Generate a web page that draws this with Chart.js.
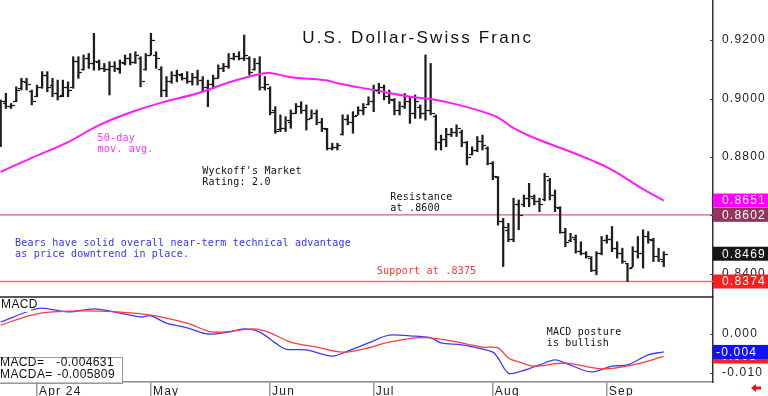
<!DOCTYPE html>
<html>
<head>
<meta charset="utf-8">
<title>U.S. Dollar-Swiss Franc</title>
<script src="https://cdn.jsdelivr.net/npm/chart.js@4.4.1/dist/chart.umd.min.js"></script>
<style>
    html, body { margin: 0; padding: 0; background: #fff; }
    canvas { display: block; }
</style>
</head>
<body>
<canvas id="fxChart" width="768" height="396"></canvas>
<script>
// Daily bars, index 0 = first trading day shown (late March)
const opens = [
    0.8840, 0.8985, 0.8975, 0.8990, 0.9035, 0.9058, 0.9025, 0.9010, 0.9040, 0.9080,
    0.9045, 0.9020, 0.9012, 0.9040, 0.9040, 0.9130, 0.9100, 0.9140, 0.9120, 0.9125,
    0.9105, 0.9100, 0.9110, 0.9100, 0.9120, 0.9140, 0.9125, 0.9140, 0.9100, 0.9150,
    0.9150, 0.9100, 0.9030, 0.9060, 0.9080, 0.9080, 0.9070, 0.9060, 0.9075, 0.9065,
    0.9040, 0.9050, 0.9070, 0.9105, 0.9110, 0.9140, 0.9145, 0.9140, 0.9140, 0.9100,
    0.9120, 0.9040, 0.9035, 0.8960, 0.8895, 0.8900, 0.8920, 0.8950, 0.8975, 0.8960,
    0.8935, 0.8950, 0.8920, 0.8895, 0.8830, 0.8835, 0.8880, 0.8930, 0.8920, 0.8945,
    0.8960, 0.8980, 0.8990, 0.9030, 0.9040, 0.9010, 0.8995, 0.8960, 0.8975, 0.8990,
    0.8950, 0.8970, 0.8950, 0.8960, 0.8940, 0.8850, 0.8860, 0.8880, 0.8885, 0.8885,
    0.8850, 0.8810, 0.8825, 0.8855, 0.8830, 0.8780, 0.8730, 0.8580, 0.8550, 0.8520,
    0.8640, 0.8640, 0.8660, 0.8660, 0.8650, 0.8655, 0.8720, 0.8670, 0.8625, 0.8545,
    0.8515, 0.8520, 0.8480, 0.8470, 0.8455, 0.8415, 0.8470, 0.8515, 0.8520, 0.8490,
    0.8470, 0.8436, 0.8425, 0.8480, 0.8470, 0.8530, 0.8515, 0.8460, 0.8445
];
const highs = [
    0.8995, 0.9018, 0.8983, 0.9040, 0.9069, 0.9069, 0.9029, 0.9046, 0.9092, 0.9092,
    0.9069, 0.9063, 0.9063, 0.9057, 0.9143, 0.9143, 0.9149, 0.9154, 0.9223, 0.9132,
    0.9120, 0.9126, 0.9126, 0.9132, 0.9149, 0.9154, 0.9160, 0.9143, 0.9154, 0.9223,
    0.9160, 0.9109, 0.9075, 0.9092, 0.9097, 0.9086, 0.9092, 0.9086, 0.9097, 0.9075,
    0.9063, 0.9080, 0.9115, 0.9120, 0.9154, 0.9155, 0.9160, 0.9217, 0.9143, 0.9137,
    0.9143, 0.9075, 0.9040, 0.8972, 0.8944, 0.8938, 0.8961, 0.8983, 0.8989, 0.8978,
    0.8961, 0.8961, 0.8932, 0.8898, 0.8847, 0.8847, 0.8944, 0.8944, 0.8955, 0.8972,
    0.8983, 0.9006, 0.9046, 0.9052, 0.9046, 0.9029, 0.9000, 0.8989, 0.9017, 0.9006,
    0.9012, 0.8978, 0.9149, 0.9120, 0.8944, 0.8875, 0.8898, 0.8898, 0.8910, 0.8892,
    0.8853, 0.8835, 0.8870, 0.8875, 0.8835, 0.8784, 0.8733, 0.8590, 0.8573, 0.8659,
    0.8653, 0.8670, 0.8710, 0.8670, 0.8659, 0.8744, 0.8727, 0.8687, 0.8630, 0.8556,
    0.8539, 0.8533, 0.8510, 0.8476, 0.8459, 0.8476, 0.8528, 0.8533, 0.8562, 0.8510,
    0.8488, 0.8436, 0.8493, 0.8528, 0.8551, 0.8545, 0.8522, 0.8488, 0.8476
];
const lows = [
    0.8835, 0.8966, 0.8966, 0.8989, 0.9029, 0.9029, 0.8978, 0.9006, 0.9035, 0.9023,
    0.9006, 0.8995, 0.9006, 0.9006, 0.9035, 0.9069, 0.9097, 0.9103, 0.9097, 0.9097,
    0.9092, 0.9012, 0.9092, 0.9086, 0.9115, 0.9115, 0.9120, 0.9040, 0.9097, 0.9149,
    0.9103, 0.9006, 0.9006, 0.9052, 0.9057, 0.9063, 0.9052, 0.9046, 0.9046, 0.9023,
    0.8972, 0.9035, 0.9069, 0.9092, 0.9103, 0.9132, 0.9132, 0.9130, 0.9080, 0.9097,
    0.9029, 0.9029, 0.8944, 0.8881, 0.8887, 0.8887, 0.8898, 0.8949, 0.8949, 0.8892,
    0.8932, 0.8910, 0.8887, 0.8824, 0.8824, 0.8824, 0.8875, 0.8910, 0.8881, 0.8944,
    0.8944, 0.8978, 0.8955, 0.9017, 0.8995, 0.8983, 0.8944, 0.8944, 0.8966, 0.8915,
    0.8932, 0.8932, 0.8926, 0.8944, 0.8824, 0.8824, 0.8835, 0.8870, 0.8870, 0.8835,
    0.8773, 0.8807, 0.8818, 0.8824, 0.8773, 0.8722, 0.8567, 0.8425, 0.8510, 0.8510,
    0.8551, 0.8630, 0.8630, 0.8636, 0.8613, 0.8650, 0.8653, 0.8613, 0.8539, 0.8493,
    0.8510, 0.8471, 0.8465, 0.8454, 0.8408, 0.8397, 0.8465, 0.8505, 0.8476, 0.8454,
    0.8436, 0.8374, 0.8425, 0.8454, 0.8420, 0.8505, 0.8442, 0.8442, 0.8425
];
const closes = [
    0.8990, 0.8975, 0.8978, 0.9030, 0.9060, 0.9050, 0.8990, 0.9040, 0.9080, 0.9040,
    0.9020, 0.9010, 0.9040, 0.9030, 0.9130, 0.9090, 0.9140, 0.9120, 0.9130, 0.9105,
    0.9100, 0.9110, 0.9105, 0.9125, 0.9140, 0.9125, 0.9150, 0.9060, 0.9150, 0.9200,
    0.9140, 0.9030, 0.9060, 0.9080, 0.9085, 0.9070, 0.9060, 0.9075, 0.9065, 0.9040,
    0.9050, 0.9070, 0.9105, 0.9110, 0.9140, 0.9145, 0.9140, 0.9150, 0.9090, 0.9120,
    0.9040, 0.9050, 0.8955, 0.8890, 0.8900, 0.8925, 0.8950, 0.8975, 0.8960, 0.8930,
    0.8950, 0.8920, 0.8900, 0.8830, 0.8835, 0.8840, 0.8930, 0.8920, 0.8940, 0.8960,
    0.8970, 0.8990, 0.9030, 0.9040, 0.9010, 0.9000, 0.8960, 0.8975, 0.8990, 0.8950,
    0.8990, 0.8950, 0.8960, 0.8950, 0.8850, 0.8860, 0.8880, 0.8885, 0.8900, 0.8850,
    0.8800, 0.8825, 0.8855, 0.8840, 0.8780, 0.8735, 0.8580, 0.8560, 0.8520, 0.8640,
    0.8600, 0.8660, 0.8665, 0.8650, 0.8640, 0.8735, 0.8670, 0.8630, 0.8545, 0.8510,
    0.8525, 0.8480, 0.8470, 0.8460, 0.8415, 0.8470, 0.8515, 0.8520, 0.8490, 0.8470,
    0.8445, 0.8420, 0.8480, 0.8470, 0.8530, 0.8520, 0.8460, 0.8450, 0.8469
];

// 50-day moving average
const maDays = [0, 6, 13, 19, 25, 31, 38, 44, 50, 52, 56, 63, 65, 72, 79, 83, 88, 93, 96, 99, 104, 110, 114, 118, 124, 128];
const maValues = [0.8749, 0.8797, 0.8851, 0.8909, 0.8952, 0.8986, 0.9018, 0.9055, 0.9084, 0.9087, 0.9073, 0.9062, 0.9052,
    0.9029, 0.9006, 0.8998, 0.8980, 0.8955, 0.8935, 0.8899, 0.8858, 0.8818, 0.8789, 0.8756, 0.8690, 0.8651];

// MACD (blue) and its average (red)
const macdDays = [0, 6, 8, 13, 18, 23, 27, 29, 32, 36, 40, 44, 47, 50, 53, 55, 59, 64, 67, 71, 75, 79, 83, 85, 89, 92, 95,
    96, 98, 100, 104, 107, 109, 114, 118, 121, 125, 128];
const macdValues = [0.0031, 0.0062, 0.0067, 0.0057, 0.0065, 0.0054, 0.0044, 0.0047, 0.0028, 0.0016, 0.0000, 0.0005, 0.0013,
    0.0005, -0.0023, -0.0039, -0.0041, -0.0057, -0.0044, -0.0023, -0.0003, -0.0005, -0.0010, -0.0023, -0.0028, -0.0036,
    -0.0047, -0.0062, -0.0101, -0.0098, -0.0080, -0.0067, -0.0075, -0.0098, -0.0083, -0.0080, -0.0054, -0.004631];
const signalDays = [0, 6, 10, 19, 29, 36, 41, 49, 52, 56, 61, 66, 70, 75, 80, 83, 87, 93, 96, 98, 100, 103, 109, 116, 122, 128];
const signalValues = [0.0023, 0.0049, 0.0057, 0.0059, 0.0049, 0.0028, 0.0005, 0.0013, 0.0003, -0.0021, -0.0034, -0.0047,
    -0.0039, -0.0021, -0.0010, -0.0010, -0.0018, -0.0034, -0.0036, -0.0062, -0.0072, -0.0083, -0.0075, -0.0090, -0.0080,
    -0.005809];

// Axis ticks
const monthStarts = [7, 29, 52, 72, 95, 117];
const monthLabels = ['Apr 24', 'May', 'Jun', 'Jul', 'Aug', 'Sep'];
const priceTicks = [0.84, 0.85, 0.86, 0.87, 0.88, 0.89, 0.90, 0.91, 0.92, 0.93];
const macdTicks = [-0.010, -0.005, 0.000, 0.005];

// Levels
const resistance = 0.8602;
const support = 0.8374;

/**
 * Text notes placed in data space (x = trading day, y = value on the given axis)
 */
const notes = [
    { lines: ['U.S. Dollar-Swiss Franc'], x: 58.2, y: 0.9207, axis: 'y', color: '#111', font: '17px "Liberation Sans"', spacing: '2.2px' },
    { lines: ['50-day', 'mov. avg.'], x: 18.7, y: 0.8865, axis: 'y', color: '#ff33ff' },
    { lines: ["Wyckoff's Market", 'Rating: 2.0'], x: 38.9, y: 0.8749, axis: 'y', color: '#111' },
    { lines: ['Resistance', 'at .8600'], x: 75.2, y: 0.8660, axis: 'y', color: '#111' },
    { lines: ['Bears have solid overall near-term technical advantage', 'as price downtrend in place.'], x: 2.76, y: 0.8503, axis: 'y', color: '#3333ff' },
    { lines: ['Support at .8375'], x: 72.6, y: 0.8407, axis: 'y', color: '#ff3333' },
    { lines: ['MACD posture', 'is bullish'], x: 105.4, y: 0.0005, axis: 'y2', color: '#111' }
];

const noteFont = '10px "DejaVu Sans Mono"';
const axisFont = { family: 'Liberation Sans', size: 12 };

/**
 * Draws the open/close ticks, level lines, notes and value tags
 */
const decorPlugin = {
    id: 'decor',
    beforeDraw(chart) {
        chart.ctx.letterSpacing = '1.2px';
    },
    beforeDatasetsDraw(chart) {
        const { ctx, chartArea, scales } = chart;
        const y = scales.y;
        ctx.save();
        ctx.lineWidth = 1.3;
        ctx.strokeStyle = '#c8608c';
        line(ctx, chartArea.left, y.getPixelForValue(resistance), chartArea.right, y.getPixelForValue(resistance));
        ctx.strokeStyle = '#ff6a6a';
        line(ctx, chartArea.left, y.getPixelForValue(support), chartArea.right, y.getPixelForValue(support));
        ctx.restore();
    },
    afterDatasetsDraw(chart) {
        const { ctx, chartArea, scales } = chart;
        const x = scales.x, y = scales.y, y2 = scales.y2;

        // open and close ticks
        ctx.save();
        ctx.strokeStyle = '#1a1a1a';
        ctx.lineWidth = 1.2;
        opens.forEach((o, i) => {
            const px = Math.round(x.getPixelForValue(i));
            const po = Math.round(y.getPixelForValue(o)) + 0.5;
            const pc = Math.round(y.getPixelForValue(closes[i])) + 0.5;
            line(ctx, px - 3, po, px, po);
            line(ctx, px + 1, pc, px + 4, pc);
        });
        ctx.restore();

        // separator between the panels
        ctx.save();
        ctx.strokeStyle = '#222';
        ctx.lineWidth = 1.5;
        line(ctx, chartArea.left, y.bottom, chartArea.right, y.bottom);

        // small inner ticks on the right axes
        ctx.lineWidth = 1;
        ctx.strokeStyle = '#444';
        [y, y2].forEach(s => s.ticks.forEach(t => {
            const py = Math.round(s.getPixelForValue(t.value)) + 0.5;
            if (py > s.top + 1 && py < s.bottom - 1) line(ctx, chartArea.right - 3, py, chartArea.right, py);
        }));
        ctx.restore();

        // notes
        notes.forEach(n => {
            ctx.save();
            ctx.font = n.font || noteFont;
            ctx.letterSpacing = n.spacing || '0.2px';
            ctx.fillStyle = n.color;
            ctx.textBaseline = 'middle';
            const px = x.getPixelForValue(n.x);
            const py = scales[n.axis].getPixelForValue(n.y);
            n.lines.forEach((t, k) => ctx.fillText(t, px, py + k * 11));
            ctx.restore();
        });

        // MACD caption and readout box
        ctx.save();
        ctx.font = '12px "Liberation Sans"';
        ctx.letterSpacing = '0.4px';
        ctx.textBaseline = 'middle';
        ctx.fillStyle = '#fff';
        ctx.fillRect(chartArea.left, y2.top + 1, 31, 14);
        ctx.fillStyle = '#111';
        ctx.fillText('MACD', chartArea.left + 1, y2.top + 8);

        const boxTop = y2.bottom - 25;
        ctx.fillStyle = '#fff';
        ctx.fillRect(chartArea.left - 1, boxTop, 123, 25);
        ctx.strokeStyle = '#999';
        ctx.lineWidth = 1;
        ctx.strokeRect(chartArea.left - 1, boxTop + 0.5, 123.5, 26);
        ctx.fillStyle = '#111';
        const lastMacd = macdValues[macdValues.length - 1];
        const lastSignal = signalValues[signalValues.length - 1];
        ctx.fillText('MACD=', chartArea.left, boxTop + 6);
        ctx.fillText('MACDA=', chartArea.left, boxTop + 18);
        ctx.textAlign = 'right';
        ctx.fillText(lastMacd.toFixed(6), chartArea.left + 114, boxTop + 6);
        ctx.fillText(lastSignal.toFixed(6), chartArea.left + 115, boxTop + 18);
        ctx.restore();

        // value tags on the right axes
        const tags = [
            { v: maValues[maValues.length - 1], s: y, bg: '#ff00ff', d: 4 },
            { v: resistance, s: y, bg: '#96345e', d: 4 },
            { v: closes[closes.length - 1], s: y, bg: '#161616', d: 4 },
            { v: support, s: y, bg: '#ff1c1c', d: 4 },
            { v: lastSignal, s: y2, bg: '#ff2020', d: 3 },
            { v: lastMacd, s: y2, bg: '#1010ff', d: 3 }
        ];
        ctx.save();
        ctx.font = '12px "Liberation Sans"';
        ctx.letterSpacing = '1.2px';
        ctx.textBaseline = 'middle';
        tags.forEach(t => {
            const py = t.s.getPixelForValue(t.v);
            ctx.fillStyle = t.bg;
            ctx.fillRect(chartArea.right, py - 7, chart.width - chartArea.right, 14);
            ctx.fillStyle = '#fff';
            const txt = t.d === 4 ? t.v.toFixed(4) : (Math.trunc(t.v * 1000) / 1000).toFixed(3);
            ctx.fillText(txt, chartArea.right + (t.d === 4 ? 9 : 3), py + 0.5);
        });
        ctx.restore();

        // little red arrow in the corner
        ctx.save();
        ctx.fillStyle = '#ee1111';
        const ax = chart.width - 12, ay = chart.height - 8;
        ctx.beginPath();
        ctx.moveTo(ax - 5, ay);
        ctx.lineTo(ax, ay - 4);
        ctx.lineTo(ax, ay - 1.5);
        ctx.lineTo(ax + 5, ay - 1.5);
        ctx.lineTo(ax + 5, ay + 1.5);
        ctx.lineTo(ax, ay + 1.5);
        ctx.lineTo(ax, ay + 4);
        ctx.closePath();
        ctx.fill();
        ctx.restore();
    },
    afterDraw(chart) {
        chart.ctx.letterSpacing = '0px';
    }
};

function line(ctx, x1, y1, x2, y2) {
    ctx.beginPath();
    ctx.moveTo(x1, y1);
    ctx.lineTo(x2, y2);
    ctx.stroke();
}

function fixWidth(scale) {
    scale.width = 55;
    scale.paddingTop = 0;
    scale.paddingBottom = 0;
}

document.addEventListener('DOMContentLoaded', () => {
    renderChart();
});

/**
 * Builds the two-panel chart (price bars + MACD)
 */
function renderChart() {
    const ctx = document.getElementById('fxChart');
    new Chart(ctx, {
        type: 'bar',
        data: {
            datasets: [
                {
                    type: 'line',
                    label: '50-day',
                    data: maDays.map((d, i) => ({ x: d, y: maValues[i] })),
                    yAxisID: 'y',
                    borderColor: '#ff1aff',
                    borderWidth: 2,
                    pointRadius: 0,
                    tension: 0.4,
                    order: 1
                },
                {
                    type: 'bar',
                    label: 'USD/CHF',
                    data: highs.map((h, i) => ({ x: i, y: [lows[i], h] })),
                    yAxisID: 'y',
                    backgroundColor: '#1e1e1e',
                    barThickness: 1.6,
                    grouped: false,
                    order: 2
                },
                {
                    type: 'line',
                    label: 'MACDA',
                    data: signalDays.map((d, i) => ({ x: d, y: signalValues[i] })),
                    yAxisID: 'y2',
                    borderColor: '#ff3b3b',
                    borderWidth: 1.3,
                    pointRadius: 0,
                    tension: 0.35,
                    order: 3
                },
                {
                    type: 'line',
                    label: 'MACD',
                    data: macdDays.map((d, i) => ({ x: d, y: macdValues[i] })),
                    yAxisID: 'y2',
                    borderColor: '#3b3bff',
                    borderWidth: 1.3,
                    pointRadius: 0,
                    tension: 0.35,
                    order: 3
                }
            ]
        },
        options: {
            responsive: false,
            animation: false,
            devicePixelRatio: 1,
            layout: { padding: 0 },
            plugins: { legend: { display: false }, tooltip: { enabled: false } },
            scales: {
                x: {
                    type: 'linear',
                    min: -0.135,
                    max: 137.5,
                    offset: false,
                    afterBuildTicks: s => { s.ticks = monthStarts.map(v => ({ value: v })); },
                    afterFit: s => { s.height = 14; s.paddingLeft = 0; s.paddingRight = 0; },
                    ticks: {
                        autoSkip: false,
                        maxRotation: 0,
                        align: 'start',
                        labelOffset: 2,
                        padding: -12,
                        color: '#222',
                        font: axisFont,
                        callback: (v, i) => monthLabels[i]
                    },
                    grid: { offset: false, drawOnChartArea: false, tickLength: 14, color: '#9a9a9a', lineWidth: 1.5 },
                    border: { color: '#8a8a8a', width: 1.5 }
                },
                y: {
                    type: 'linear',
                    position: 'right',
                    stack: 'panels',
                    stackWeight: 297,
                    min: 0.8321,
                    max: 0.9337,
                    afterBuildTicks: s => { s.ticks = priceTicks.map(v => ({ value: v })); },
                    afterFit: fixWidth,
                    ticks: {
                        padding: 1,
                        color: '#222',
                        font: axisFont,
                        callback: v => (Math.round(v * 100) % 2 === 0 ? v.toFixed(4) : '')
                    },
                    grid: { display: false },
                    border: { color: '#333', width: 1.5 }
                },
                y2: {
                    type: 'linear',
                    position: 'right',
                    stack: 'panels',
                    stackWeight: 85,
                    min: -0.0124,
                    max: 0.00956,
                    afterBuildTicks: s => { s.ticks = macdTicks.map(v => ({ value: v })); },
                    afterFit: fixWidth,
                    ticks: {
                        padding: 1,
                        color: '#222',
                        font: axisFont,
                        callback: v => (Math.abs(v) < 1e-9 ? '0.000' : (Math.abs(v + 0.01) < 1e-9 ? '-0.010' : ''))
                    },
                    grid: { display: false },
                    border: { color: '#333', width: 1.5 }
                }
            }
        },
        plugins: [decorPlugin]
    });
}
</script>
</body>
</html>
